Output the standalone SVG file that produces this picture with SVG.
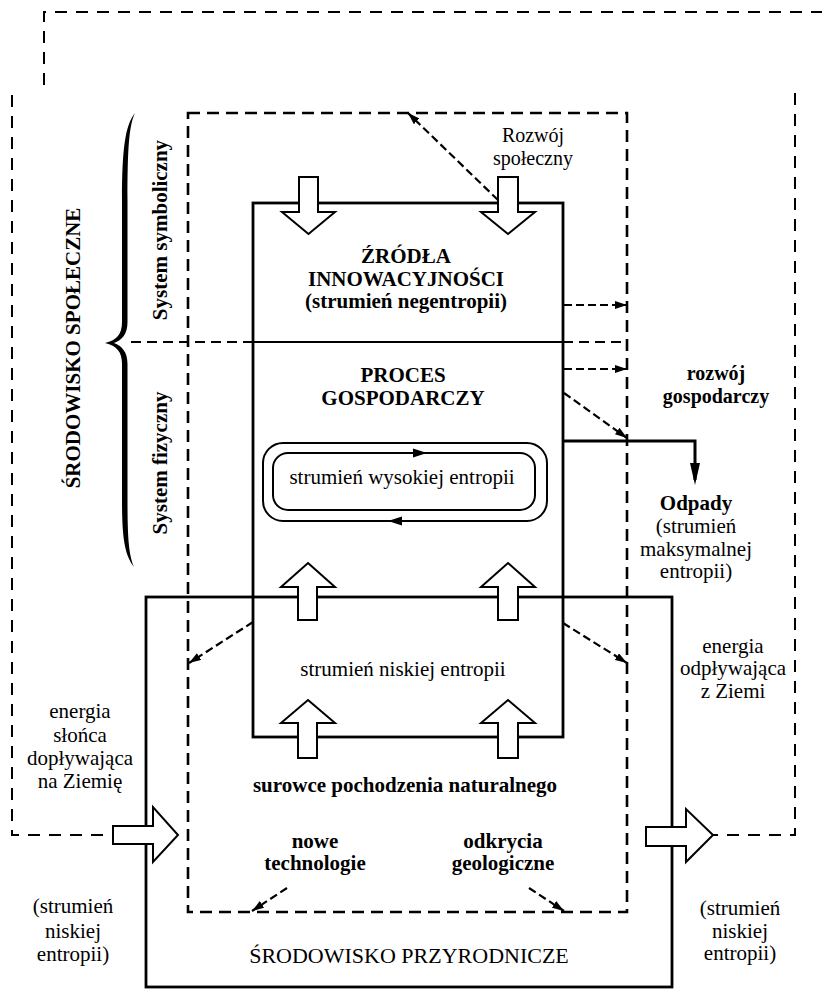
<svg xmlns="http://www.w3.org/2000/svg" xmlns:xlink="http://www.w3.org/1999/xlink" width="822" height="990" viewBox="0 0 822 990">
<style>
  .t { font-family: "Liberation Serif", "Times New Roman", serif; font-size: 21px; fill: #000; text-anchor: middle; }
  .b { font-weight: bold; }
  .frame { fill: none; stroke: #000; stroke-width: 2; stroke-dasharray: 12 9; }
  .dbox { fill: none; stroke: #000; stroke-width: 2.6; stroke-dasharray: 12 7; }
  .solid { fill: none; stroke: #000; stroke-width: 2.8; }
  .thin { fill: none; stroke: #000; stroke-width: 2; }
  .darr { fill: none; stroke: #000; stroke-width: 2.2; stroke-dasharray: 8 4; marker-end: url(#ah); }
  .block { fill: #fff; stroke: #000; stroke-width: 2; stroke-linejoin: miter; }
</style>
<defs>
  <marker id="ah" markerUnits="userSpaceOnUse" markerWidth="12" markerHeight="8" refX="12" refY="4" orient="auto">
    <path d="M0,0 L12,4 L0,8 Z" fill="#000"/>
  </marker>
  <marker id="ahBig" markerUnits="userSpaceOnUse" markerWidth="22" markerHeight="10" refX="17" refY="5" orient="auto">
    <path d="M0,0 L22,5 L0,10 Z" fill="#000"/>
  </marker>
  <path id="cyc" d="M0,0 L-14,-4.5 L-14,4.5 Z" fill="#000"/>
</defs>

<g id="outer-frame">
  <path class="frame" d="M44,85 V12 H822"/>
  <path class="frame" d="M12,95 V835 H113"/>
  <path class="frame" d="M795,93 V835 H713"/>
</g>

<g id="srodowisko-przyrodnicze">
  <rect class="solid" x="146" y="597" width="526" height="390"/>
  <text class="t" x="409" y="963" style="font-size:22px">ŚRODOWISKO PRZYRODNICZE</text>
</g>

<g id="system-dashed">
  <rect class="dbox" x="188" y="113" width="439" height="799"/>
</g>

<g id="proces">
  <rect class="solid" x="253" y="203" width="310" height="534"/>
  <line class="thin" x1="253" y1="342" x2="563" y2="342"/>
  <text class="t b" x="406" y="263">ŹRÓDŁA</text>
  <text class="t b" x="406" y="286">INNOWACYJNOŚCI</text>
  <text class="t b" x="406" y="308">(strumień negentropii)</text>
  <text class="t b" x="403" y="382">PROCES</text>
  <text class="t b" x="403" y="405">GOSPODARCZY</text>
  <text class="t" x="403" y="676">strumień niskiej entropii</text>
</g>

<g id="cykl">
  <rect class="thin" x="263" y="443" width="284" height="78" rx="20"/>
  <rect class="thin" x="273" y="453" width="262" height="57" rx="15"/>
  <use xlink:href="#cyc" x="427" y="453"/>
  <use xlink:href="#cyc" transform="translate(388,521) rotate(180)"/>
  <text class="t" x="402" y="484">strumień wysokiej entropii</text>
</g>

<g id="brace">
  <path d="M135,113 C125,125 122,150 122,200 L122,322 C122,334 117,340 105,343 C117,346 122,352 122,364 L122,500 C122,540 125,555 134,567 C129,555 127.5,540 127.5,500 L127.5,364 C127.5,352 122,346 114,343 C122,340 127.5,334 127.5,322 L127.5,200 C127.5,150 129,125 135,113 Z" fill="#000"/>
</g>

<g id="labels-side">
  <text class="t b" transform="translate(80,348) rotate(-90)">ŚRODOWISKO SPOŁECZNE</text>
  <text class="t b" transform="translate(167,230) rotate(-90)">System symboliczny</text>
  <text class="t b" transform="translate(167,463) rotate(-90)">System fizyczny</text>
</g>

<g id="rozwoj-spoleczny">
  <text class="t" x="533" y="142" style="font-size:20px">Rozwój</text>
  <text class="t" x="533" y="165" style="font-size:20px">społeczny</text>
</g>

<g id="rozwoj-gospodarczy">
  <text class="t b" x="716" y="380" style="font-size:20px">rozwój</text>
  <text class="t b" x="716" y="403" style="font-size:20px">gospodarczy</text>
</g>

<g id="odpady">
  <text class="t b" x="696" y="510">Odpady</text>
  <text class="t" x="696" y="533">(strumień</text>
  <text class="t" x="696" y="556">maksymalnej</text>
  <text class="t" x="696" y="578">entropii)</text>
</g>

<g id="energia-odplywajaca">
  <text class="t" x="733" y="653">energia</text>
  <text class="t" x="733" y="675">odpływająca</text>
  <text class="t" x="733" y="698">z Ziemi</text>
  <text class="t" x="740" y="915">(strumień</text>
  <text class="t" x="740" y="938">niskiej</text>
  <text class="t" x="740" y="960">entropii)</text>
</g>

<g id="energia-doplywajaca">
  <text class="t" x="80" y="718">energia</text>
  <text class="t" x="80" y="742">słońca</text>
  <text class="t" x="80" y="765">dopływająca</text>
  <text class="t" x="80" y="788">na Ziemię</text>
  <text class="t" x="73" y="913">(strumień</text>
  <text class="t" x="73" y="938">niskiej</text>
  <text class="t" x="73" y="961">entropii)</text>
</g>

<g id="surowce">
  <text class="t b" x="405" y="792">surowce pochodzenia naturalnego</text>
  <text class="t b" x="315" y="848">nowe</text>
  <text class="t b" x="315" y="870">technologie</text>
  <text class="t b" x="503" y="848">odkrycia</text>
  <text class="t b" x="503" y="870">geologiczne</text>
</g>

<g id="connectors">
  <line class="frame" x1="131" y1="342" x2="253" y2="342" style="stroke-dasharray:10 6"/>
  <line class="frame" x1="563" y1="342" x2="628" y2="342" style="stroke-dasharray:10 6"/>
  <line class="darr" x1="498" y1="200" x2="408" y2="113"/>
  <line class="darr" x1="564" y1="305" x2="627" y2="305"/>
  <line class="darr" x1="564" y1="369" x2="627" y2="369"/>
  <line class="darr" x1="564" y1="393" x2="627" y2="438"/>
  <line class="darr" x1="253" y1="622" x2="189" y2="663"/>
  <line class="darr" x1="563" y1="623" x2="627" y2="663"/>
  <line class="darr" x1="287" y1="888" x2="252" y2="911"/>
  <line class="darr" x1="529" y1="888" x2="564" y2="911"/>
  <path d="M563,441 H695 V480" fill="none" stroke="#000" stroke-width="3" marker-end="url(#ahBig)"/>
  <polygon class="block" points="299,177 318,177 318,212 335,212 308.5,234 282,212 299,212"/>
  <polygon class="block" points="498,177 518,177 518,212 535,212 508,234 481,212 498,212"/>
  <polygon class="block" points="308,563 335,587 317,587 317,620 298,620 298,587 281,587"/>
  <polygon class="block" points="508,563 535,587 518,587 518,620 498,620 498,587 481,587"/>
  <polygon class="block" points="308,700 335,723 317,723 317,758 298,758 298,723 281,723"/>
  <polygon class="block" points="508,700 535,723 518,723 518,758 498,758 498,723 481,723"/>
  <polygon class="block" points="113,826 153,826 153,807 178,835 153,862 153,844 113,844"/>
  <polygon class="block" points="646,827 686,827 686,809 713,835 686,862 686,846 646,846"/>
</g>
</svg>
